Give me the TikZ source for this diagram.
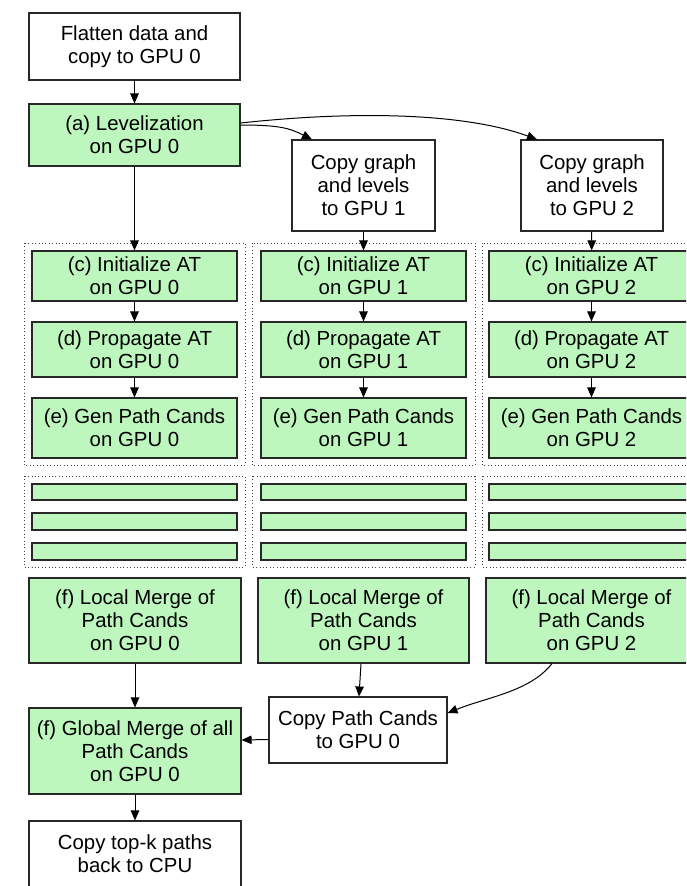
\documentclass[tikz,border=0pt]{standalone}
\usepackage{fontspec}
\setmainfont{Liberation Sans}
\usetikzlibrary{arrows.meta,calc}
\definecolor{gfill}{RGB}{190,247,190}
\definecolor{bord}{RGB}{40,40,40}
\begin{document}
\begin{tikzpicture}[x=1pt,y=-1pt,
  wbox/.style={draw=bord,line width=1.1pt,fill=white,align=center,inner sep=0pt,
    font=\fontsize{20.4}{23}\selectfont},
  gbox/.style={wbox,fill=gfill},
  col/.style={minimum width=205pt},
  wide/.style={minimum width=212pt},
  grp/.style={draw=black!75,line width=1pt,dash pattern=on 1pt off 2.4pt},
  arr/.style={draw=black,line width=1pt,-{Triangle[length=10pt,width=8.5pt]}}
]
\useasboundingbox (0,0) rectangle (686,886);
\clip (0,0) rectangle (686,886);

% dotted groups
\draw[grp] (24,243) rectangle (245,465);
\draw[grp] (252,243) rectangle (475,465);
\draw[grp] (482,243) rectangle (705,465);
\draw[grp] (24,476) rectangle (245,567);
\draw[grp] (252,476) rectangle (475,567);
\draw[grp] (482,476) rectangle (705,567);

% top
\node[wbox,minimum width=211pt,minimum height=67pt] (flat) at (134.5,46.5) {Flatten data and\\copy to GPU 0};
\node[gbox,minimum width=211pt,minimum height=62pt] (lev) at (134.5,135) {(a) Levelization\\on GPU 0};
\node[wbox,minimum width=143pt,minimum height=91pt] (cg1) at (363.5,185.5) {Copy graph\\and levels\\to GPU 1};
\node[wbox,minimum width=142pt,minimum height=91pt] (cg2) at (592,185.5) {Copy graph\\and levels\\to GPU 2};

% per-GPU columns
\foreach \i/\x in {0/134.5,1/363.5,2/591.5}{
  \node[gbox,col,minimum height=50pt] (init\i) at (\x,276) {(c) Initialize AT\\on GPU \i};
  \node[gbox,col,minimum height=55pt] (prop\i) at (\x,349.5) {(d) Propagate AT\\on GPU \i};
  \node[gbox,col,minimum height=60pt] (gen\i) at (\x,428) {(e) Gen Path Cands\\on GPU \i};
  \node[gbox,col,minimum height=16pt] (ba\i) at (\x,492) {};
  \node[gbox,col,minimum height=17pt] (bb\i) at (\x,521.5) {};
  \node[gbox,col,minimum height=17pt] (bc\i) at (\x,551.5) {};
  \draw[arr] (init\i) -- (prop\i);
  \draw[arr] (prop\i) -- (gen\i);
}

\node[gbox,wide,minimum height=85pt] (lm0) at (135,620.5) {(f) Local Merge of\\Path Cands\\on GPU 0};
\node[gbox,minimum width=211pt,minimum height=85pt] (lm1) at (363.5,620.5) {(f) Local Merge of\\Path Cands\\on GPU 1};
\node[gbox,minimum width=211pt,minimum height=85pt] (lm2) at (591.5,620.5) {(f) Local Merge of\\Path Cands\\on GPU 2};
\node[gbox,wide,minimum height=86pt] (gm) at (135,751) {(f) Global Merge of all\\Path Cands\\on GPU 0};
\node[wbox,minimum width=178pt,minimum height=66pt] (cpc) at (358,730) {Copy Path Cands\\to GPU 0};
\node[wbox,wide,minimum height=66pt] (topk) at (135,854) {Copy top-k paths\\back to CPU};

% connectors
\draw[arr] (flat) -- (lev);
\draw[arr] (lev) -- (init0);
\draw[arr] ($(lev.east)+(0,-10)$) .. controls +(40,0) and +(-22,-11) .. ($(cg1.north)+(-51.5,0)$);
\draw[arr] ($(lev.east)+(0,-12)$) .. controls +(130,-14) and +(-65,-24) .. ($(cg2.north)+(-55,0)$);
\draw[arr] (cg1) -- (init1);
\draw[arr] (cg2) -- (init2);
\draw[arr] (lm0) -- (gm);
\draw[arr] ($(lm1.south)+(-2.5,0)$) -- ($(cpc.north)+(1,0)$);
\draw[arr] ($(lm2.south)+(-39.5,0)$) .. controls +(-22,28) and +(40,-16) .. ($(cpc.east)+(0,-17)$);
\draw[arr] ($(cpc.west)+(0,9.5)$) -- ($(gm.east)+(0,-11)$);
\draw[arr] (gm) -- (topk);
\end{tikzpicture}
\end{document}
